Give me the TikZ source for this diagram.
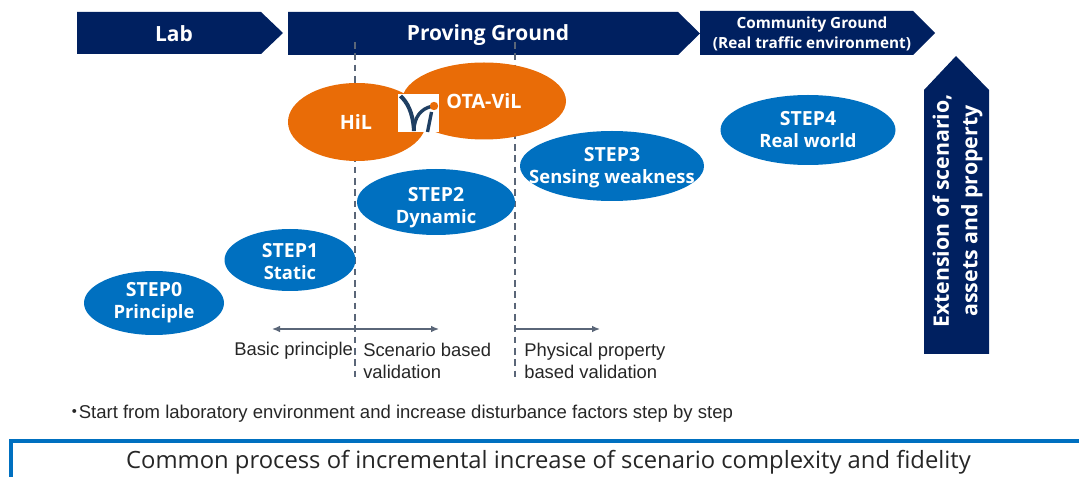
\documentclass[tikz,border=0pt]{standalone}
\usepackage{fontspec}
\setmainfont{Liberation Sans}
\newfontfamily\labfont{Open Sans}
\newfontfamily\cjkfont{Noto Sans CJK JP}
\usetikzlibrary{arrows.meta}
\definecolor{navy}{HTML}{002060}
\definecolor{stepblue}{HTML}{0070C0}
\definecolor{orng}{HTML}{E96C07}
\definecolor{dashc}{HTML}{5A6678}
\definecolor{logoblue}{HTML}{1F3F63}
\newcommand{\fs}[2]{\fontsize{#1}{#2}\selectfont}
\newcommand{\stepline}[1]{{\fs{14.6}{16.5}#1}}
\tikzset{
 banner/.style={fill=navy,draw=none},
 bannertext/.style={text=white,font=\labfont\bfseries\fs{15.7}{18},inner sep=0pt,align=center},
 bluell/.style={fill=stepblue,draw=none},
 orngell/.style={fill=orng,draw=none},
 elltext/.style={text=white,font=\labfont\bfseries\fs{13.8}{16.5},inner sep=0pt,align=center},
 guide/.style={draw=dashc,line width=0.8pt,dash pattern=on 5pt off 3.5pt},
 scale arrow/.style={draw=dashc,line width=1pt,{Latex[length=6pt,width=5pt]}-{Latex[length=6pt,width=5pt]}},
 single arrow line/.style={draw=dashc,line width=1pt,-{Latex[length=6pt,width=5pt]}},
 body/.style={font=\fs{13.8}{16.5},inner sep=0pt,anchor=west,align=left,text=black!85},
 frame/.style={draw=stepblue,line width=3pt}
}
\begin{document}
\begin{tikzpicture}[x=0.75pt,y=-0.75pt]
\useasboundingbox (0,0) rectangle (1079,477);
% banners
\fill[banner] (77,12) -- (261,12) -- (283,33) -- (261,54) -- (77,54) -- cycle;
\fill[banner] (288,12) -- (678,12) -- (700,33.5) -- (678,55) -- (288,55) -- cycle;
\fill[banner] (700,11) -- (913,11) -- (935,33) -- (913,55) -- (700,55) -- cycle;
\fill[banner] (924,354) -- (924,90) -- (956,56) -- (989,90) -- (989,354) -- cycle;
\node[bannertext] (lab) at (174,34) {Lab};
\node[bannertext] (pg) at (488,35) {Proving Ground};
\node[bannertext,font=\labfont\bfseries\fs{11.5}{14.5}] (cg) at (812,34) {Community Ground\\(Real traffic environment)};
\node[bannertext,rotate=90,font=\labfont\bfseries\fs{16}{21.5}] (ext) at (957.5,211) {Extension of scenario,\\assets and property};
% guides
\coordinate (g1a) at (355,42); \coordinate (g1b) at (355,380);
\coordinate (g2a) at (515,42); \coordinate (g2b) at (515,380);
\draw[guide] (g1a) -- (g1b);
\draw[guide] (g2a) -- (g2b);
% ellipses
\fill[orngell] (357,122) ellipse [x radius=69,y radius=39];
\fill[orngell] (484,101) ellipse [x radius=82,y radius=38.5];
\fill[bluell] (612,166) ellipse [x radius=92,y radius=35];
\fill[bluell] (808,130) ellipse [x radius=87.5,y radius=35];
\fill[bluell] (436,202) ellipse [x radius=79,y radius=33];
\fill[bluell] (290,260) ellipse [x radius=65.5,y radius=31];
\fill[bluell] (154,303) ellipse [x radius=70,y radius=32];
\node[elltext,font=\labfont\bfseries\fs{14.8}{16.5}] (hil) at (356,122.5) {HiL};
\node[elltext,font=\labfont\bfseries\fs{14.8}{16.5}] (ota) at (484,101.5) {OTA-ViL};
\node[elltext] (s3) at (612,168) {\stepline{STEP3}\\Sensing weakness};
\node[elltext] (s4) at (808,130) {\stepline{STEP4}\\Real world};
\node[elltext] (s2) at (436,208) {\stepline{STEP2}\\Dynamic};
\node[elltext] (s1) at (290,262) {\stepline{STEP1}\\Static};
\node[elltext] (s0) at (154,302.5) {\stepline{STEP0}\\Principle};
% logo
\fill[white] (398,94) rectangle (439,132);
\draw[logoblue,line width=3pt] (400.5,96) .. controls (407,102) and (413,112) .. (414,131);
\draw[logoblue,line width=2.5pt] (414,131) .. controls (414,117) and (421,109) .. (431,106.5);
\draw[logoblue,line width=2.5pt] (427.5,132) -- (431.5,112);
\fill[orng] (434,106) circle (4.2);
% arrows
\coordinate (a1) at (272,329); \coordinate (a2) at (439,329);
\coordinate (a3) at (516,329); \coordinate (a4) at (600,329);
\draw[scale arrow] (a1) -- (a2);
\draw[single arrow line] (a3) -- (a4);
% texts
\node[body] (t1) at (234,350.5) {Basic principle};
\node[body] (t2) at (363,361) {Scenario based\\validation};
\node[body] (t3) at (524,361) {Physical property\\based validation};
\node[body,font=\fs{13.9}{16.5}] (t4) at (65,413.5) {{\cjkfont ・}\kern-3.75pt Start from laboratory environment and increase disturbance factors step by step};
% bottom frame
\draw[frame] (10.5,477) -- (10.5,441) -- (1079,441);
\node[font=\labfont\fs{17.85}{20},inner sep=0pt,text=black!85] (t5) at (548.5,462) {Common process of incremental increase of scenario complexity and fidelity};
\end{tikzpicture}
\end{document}
